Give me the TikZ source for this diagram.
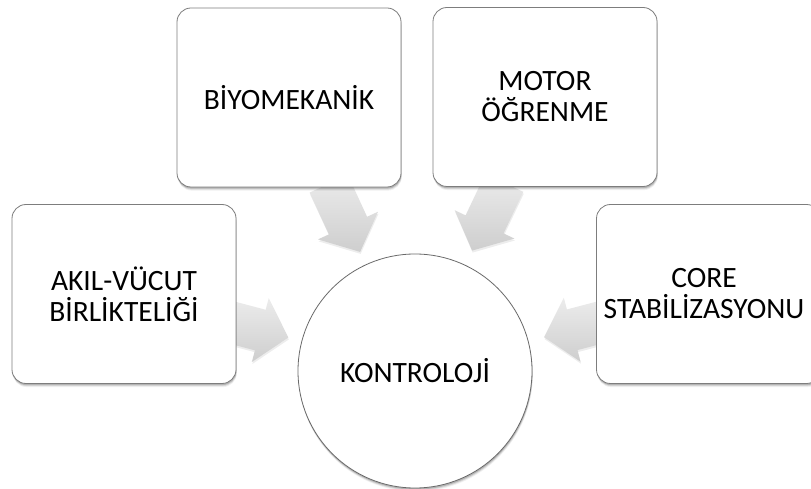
\documentclass[tikz,border=0pt]{standalone}
\usepackage{fontspec}
\setmainfont{Carlito}
\usetikzlibrary{calc,shadows}
\pgfdeclarelayer{back}
\pgfdeclarelayer{bg}
\pgfsetlayers{back,bg,main}
\definecolor{boxline}{RGB}{125,125,125}
\definecolor{hubline}{RGB}{105,105,105}
\definecolor{arrowtop}{RGB}{236,236,236}
\definecolor{arrowbot}{RGB}{206,206,206}
\tikzset{
  softshadow/.style={
    general shadow={shadow xshift=0.8bp, shadow yshift=-3.6bp, fill=black, opacity=0.06},
    general shadow={shadow xshift=0.6bp, shadow yshift=-2.6bp, fill=black, opacity=0.10},
    general shadow={shadow xshift=0.4bp, shadow yshift=-1.6bp, fill=black, opacity=0.16}},
  txt/.style={font=\fontsize{29.5bp}{31bp}\selectfont, align=center, text=black},
  box/.style={draw=boxline, line width=0.8bp, fill=white, rounded corners=14bp,
    minimum width=224bp, minimum height=179bp, inner sep=0pt, txt, softshadow},
  hub/.style={circle, draw=hubline, line width=0.8bp, fill=white, minimum size=234bp,
    inner sep=0pt, txt, softshadow},
  blockarrow/.style={draw=none, top color=arrowtop, bottom color=arrowbot,
    general shadow={shadow xshift=0.5bp, shadow yshift=-2bp, fill=black, opacity=0.07}}
}
\newcommand\radarrow[2]{%
  \path ($(#1)!95bp!(#2)$) coordinate (t0)
        ($(#1)!141bp!(#2)$) coordinate (h0)
        ($(#1)!170bp!(#2)$) coordinate (tp);
  \path[blockarrow] ($(t0)!21bp!90:(#2)$) -- ($(h0)!21bp!90:(#2)$)
     -- ($(h0)!33bp!90:(#2)$) -- (tp) -- ($(h0)!33bp!-90:(#2)$)
     -- ($(h0)!21bp!-90:(#2)$) -- ($(t0)!21bp!-90:(#2)$) -- cycle;
}
\begin{document}
\begin{tikzpicture}[x=1bp,y=-1bp]
  \useasboundingbox (0,0) rectangle (811,489);
  \clip (0,0) rectangle (811,489);
  \begin{pgfonlayer}{back}
    \fill[white] (0,0) rectangle (811,489);
  \end{pgfonlayer}
  \node[box] (akil) at (124,294) {AKIL-VÜCUT\\BİRLİKTELİĞİ};
  \node[box] (biyo) at (289,97.5) {BİYOMEKANİK};
  \node[box] (motor) at (545,97) {MOTOR\\ÖĞRENME};
  \node[box] (core) at (708.5,294) {};
  \node[txt] (coretext) at (704,294) {CORE\\STABİLİZASYONU};
  \node[hub] (kontrol) at (415,371) {KONTROLOJİ};
  \begin{pgfonlayer}{bg}
    \radarrow{akil.center}{kontrol.center}
    \radarrow{biyo.center}{kontrol.center}
    \radarrow{motor.center}{kontrol.center}
    \radarrow{core.center}{kontrol.center}
  \end{pgfonlayer}
\end{tikzpicture}
\end{document}
